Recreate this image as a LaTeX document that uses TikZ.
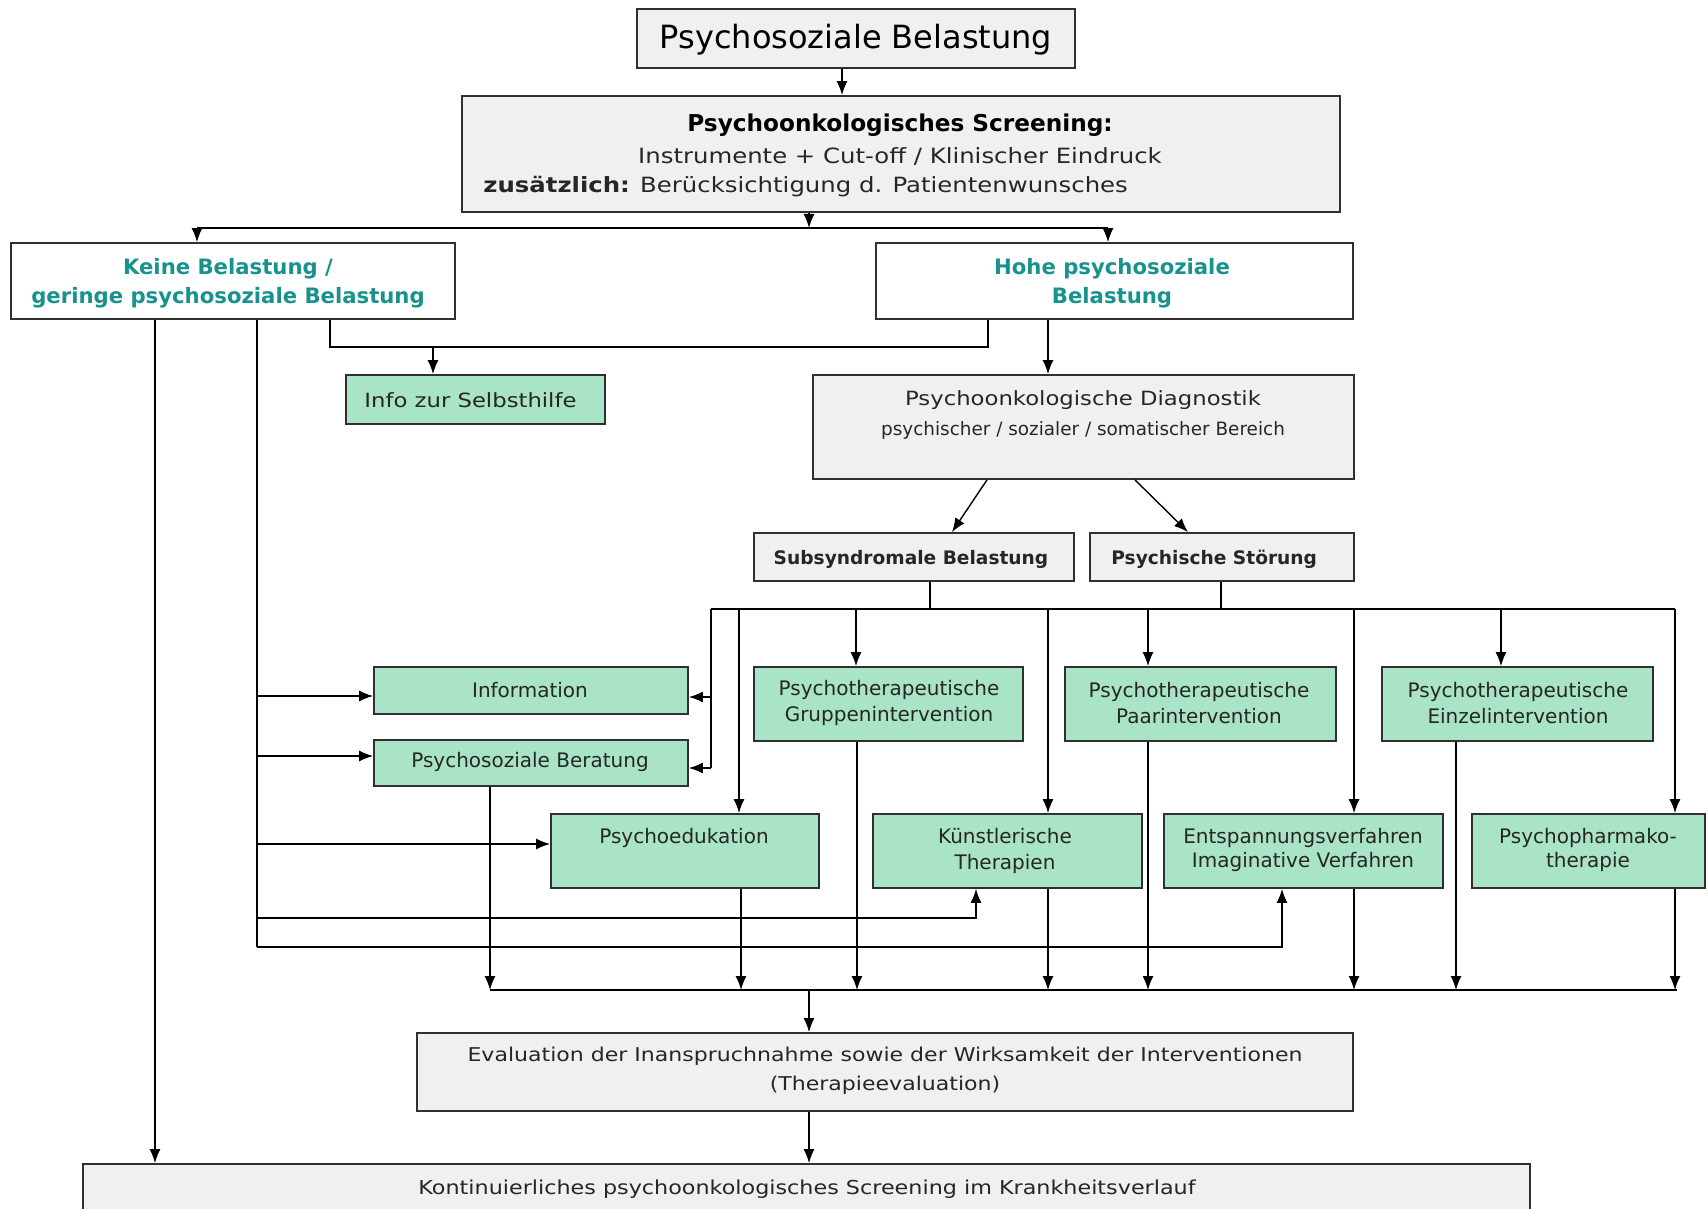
\documentclass[tikz,border=0pt]{standalone}
\usepackage{fontspec}
\setmainfont{DejaVu Sans}
\newfontfamily\widefont{DejaVu Sans}[FakeStretch=1.16]
\usetikzlibrary{arrows.meta,fit}
\definecolor{boxgray}{HTML}{F0F0F0}
\definecolor{boxgreen}{HTML}{A8E4C5}
\definecolor{tealtxt}{HTML}{17928D}
\definecolor{txtgray}{HTML}{262626}
\definecolor{edgegray}{HTML}{303030}
\newcommand{\fsz}[2]{\fontsize{#1}{#2}\selectfont}
\begin{document}
\begin{tikzpicture}[x=0.5pt,y=-0.5pt,
  basebox/.style={draw=edgegray,line width=0.9pt,inner sep=0pt},
  graybox/.style={basebox,fill=boxgray},
  greenbox/.style={basebox,fill=boxgreen},
  whitebox/.style={basebox,fill=white},
  txt/.style={inner sep=0pt,align=center,text=txtgray,font=\fsz{10}{13}},
  conn/.style={draw=black,line width=0.7pt},
  arr/.style={conn,-{Latex[length=7pt,width=5.5pt]}}
]
\useasboundingbox (0,0) rectangle (1708,1209);
\clip (0,0) rectangle (1708,1209);
\fill[white] (0,0) rectangle (1708,1209);

% ---------- x / y helper coordinates ----------
\foreach \n in {155,197,257,330,433,490,711,739,741,809,842,856,857,930,952,976,987,988,1048,1108,1135,1148,1188,1221,1282,1354,1456,1501,1675,1677}
  {\coordinate (x\n) at (\n,0);}
\foreach \n in {228,347,609,696,697,756,768,844,918,947,990}
  {\coordinate (y\n) at (0,\n);}

% ---------- boxes ----------
\node[graybox, fit={(637,9) (1075,68)}] (top) {};
\node[graybox, fit={(462,96) (1340,212)}] (scr) {};
\node[whitebox, fit={(11,243) (455,319)}] (keine) {};
\node[whitebox, fit={(876,243) (1353,319)}] (hohe) {};
\node[greenbox, fit={(346,375) (605,424)}] (selbst) {};
\node[graybox, fit={(813,375) (1354,479)}] (diag) {};
\node[graybox, fit={(754,533) (1074,581)}] (subs) {};
\node[graybox, fit={(1090,533) (1354,581)}] (stoer) {};
\node[greenbox, fit={(374,667) (688,714)}] (info) {};
\node[greenbox, fit={(374,740) (688,786)}] (berat) {};
\node[greenbox, fit={(754,667) (1023,741)}] (grupp) {};
\node[greenbox, fit={(1065,667) (1336,741)}] (paar) {};
\node[greenbox, fit={(1382,667) (1653,741)}] (einzel) {};
\node[greenbox, fit={(551,814) (819,888)}] (psyed) {};
\node[greenbox, fit={(873,814) (1142,888)}] (kuenst) {};
\node[greenbox, fit={(1164,814) (1443,888)}] (entsp) {};
\node[greenbox, fit={(1472,814) (1705,888)}] (pharm) {};
\node[graybox, fit={(417,1033) (1353,1111)}] (eval) {};
\node[graybox, fit={(83,1164) (1530,1230)}] (kont) {};

% ---------- texts ----------
\node[txt, text=black, font=\fsz{16}{19}] (ttop) at (856,40) {Psychosoziale Belastung};
\node[txt, text=black, font=\bfseries\fsz{11.6}{14}] (tscr1) at (900,125) {Psychoonkologisches Screening:};
\node[txt, font=\widefont\fsz{10.5}{13}] (tscr2) at (900,156) {Instrumente + Cut-off / Klinischer Eindruck};
\node[txt, font=\widefont\fsz{10.5}{13}, anchor=west] (tscr3) at (483,187) {\textbf{zusätzlich:} Berücksichtigung d. Patientenwunsches};
\node[txt, text=tealtxt, font=\bfseries\fsz{10.6}{14.5}] (tkeine) at (228,283) {Keine Belastung /\\geringe psychosoziale Belastung};
\node[txt, text=tealtxt, font=\bfseries\fsz{10.6}{14.5}] (thohe) at (1112,283) {Hohe psychosoziale\\Belastung};
\node[txt, font=\widefont\fsz{9.8}{13}, anchor=west] (tselbst) at (364,400) {Info zur Selbsthilfe};
\node[txt, font=\widefont\fsz{9.8}{13}] (tdiag1) at (1083,400) {Psychoonkologische Diagnostik};
\node[txt, font=\fsz{9.2}{12}] (tdiag2) at (1083,430) {psychischer / sozialer / somatischer Bereich};
\node[txt, font=\bfseries\fsz{9.3}{12}] (tsubs) at (911,559) {Subsyndromale Belastung};
\node[txt, font=\bfseries\fsz{9.3}{12}, anchor=west] (tstoer) at (1111,559) {Psychische Störung};
\node[txt] (tinfo) at (530,690) {Information};
\node[txt] (tberat) at (530,762) {Psychosoziale Beratung};
\node[txt] (tgrupp) at (889,703) {Psychotherapeutische\\Gruppenintervention};
\node[txt] (tpaar) at (1199,703) {Psychotherapeutische\\Paarintervention};
\node[txt] (teinzel) at (1518,703) {Psychotherapeutische\\Einzelintervention};
\node[txt] (tpsyed) at (684,838) {Psychoedukation};
\node[txt] (tkuenst) at (1005,851) {Künstlerische\\Therapien};
\node[txt, font=\fsz{10}{11.8}] (tentsp) at (1303,850) {Entspannungsverfahren\\Imaginative Verfahren};
\node[txt, font=\fsz{10}{11.8}] (tpharm) at (1588,850) {Psychopharmako-\\therapie};
\node[txt, font=\widefont\fsz{9.5}{14.5}] (teval) at (885,1071) {Evaluation der Inanspruchnahme sowie der Wirksamkeit der Interventionen\\(Therapieevaluation)};
\node[txt, font=\widefont\fsz{9.6}{13}] (tkont) at (807,1189) {Kontinuierliches psychoonkologisches Screening im Krankheitsverlauf};

% ---------- connectors ----------
\draw[arr] (top.south -| x842) -- (scr.north -| x842);
\draw[arr] (scr.south -| x809) -- (x809 |- y228);
\draw[conn] (x197 |- y228) -- (x1108 |- y228);
\draw[arr] (x197 |- y228) -- (keine.north -| x197);
\draw[arr] (x1108 |- y228) -- (hohe.north -| x1108);

\draw[conn] (keine.south -| x330) |- (x988 |- y347) -- (hohe.south -| x988);
\draw[arr] (x433 |- y347) -- (selbst.north -| x433);
\draw[arr] (hohe.south -| x1048) -- (diag.north -| x1048);

\draw[arr] (diag.south -| x987) -- (subs.north -| x952);
\draw[arr] (diag.south -| x1135) -- (stoer.north -| x1188);

\draw[conn] (subs.south -| x930) -- (x930 |- y609);
\draw[conn] (stoer.south -| x1221) -- (x1221 |- y609);
\draw[conn] (x711 |- y609) -- (x1675 |- y609);
\draw[conn] (x711 |- y609) -- (x711 |- y768);
\draw[arr] (x711 |- y697) -- (info.east |- y697);
\draw[arr] (x711 |- y768) -- (berat.east |- y768);
\draw[arr] (x739 |- y609) -- (psyed.north -| x739);
\draw[arr] (x856 |- y609) -- (grupp.north -| x856);
\draw[arr] (x1048 |- y609) -- (kuenst.north -| x1048);
\draw[arr] (x1148 |- y609) -- (paar.north -| x1148);
\draw[arr] (x1354 |- y609) -- (entsp.north -| x1354);
\draw[arr] (x1501 |- y609) -- (einzel.north -| x1501);
\draw[arr] (x1675 |- y609) -- (pharm.north -| x1675);

% left feed from "Keine Belastung"
\draw[conn] (keine.south -| x257) -- (x257 |- y947);
\draw[arr] (x257 |- y696) -- (info.west |- y696);
\draw[arr] (x257 |- y756) -- (berat.west |- y756);
\draw[arr] (x257 |- y844) -- (psyed.west |- y844);
\draw[arr] (x257 |- y918) -| (kuenst.south -| x976);
\draw[arr] (x257 |- y947) -| (entsp.south -| x1282);
\draw[arr] (keine.south -| x155) -- (kont.north -| x155);

% collector
\draw[conn] (x490 |- y990) -- (x1677 |- y990);
\draw[arr] (berat.south -| x490) -- (x490 |- y990);
\draw[arr] (psyed.south -| x741) -- (x741 |- y990);
\draw[arr] (grupp.south -| x857) -- (x857 |- y990);
\draw[arr] (kuenst.south -| x1048) -- (x1048 |- y990);
\draw[arr] (paar.south -| x1148) -- (x1148 |- y990);
\draw[arr] (entsp.south -| x1354) -- (x1354 |- y990);
\draw[arr] (einzel.south -| x1456) -- (x1456 |- y990);
\draw[arr] (pharm.south -| x1675) -- (x1675 |- y990);
\draw[arr] (x809 |- y990) -- (eval.north -| x809);
\draw[arr] (eval.south -| x809) -- (kont.north -| x809);
\end{tikzpicture}
\end{document}
